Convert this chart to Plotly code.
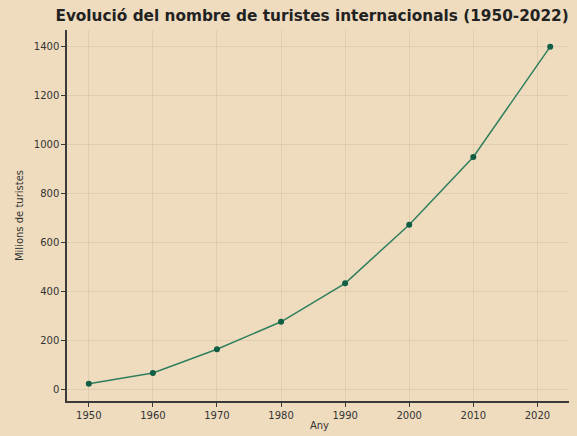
import plotly.graph_objects as go

anys = [1950, 1960, 1970, 1980, 1990, 2000, 2010, 2022]
turistes = [25, 69, 166, 278, 435, 674, 950, 1400]
x_ticks = [1950, 1960, 1970, 1980, 1990, 2000, 2010, 2020]
y_ticks = [0, 200, 400, 600, 800, 1000, 1200, 1400]

BG = "#efdcbf"
FONT = "DejaVu Sans"

fig = go.Figure(go.Scatter(
    x=anys, y=turistes, mode="lines+markers",
    line=dict(color="#2f7f5e", width=1.5),
    marker=dict(color="#0f5e45", size=6),
))

axis_common = dict(
    showline=True, linecolor="#3a3a3a", linewidth=1.5,
    ticks="outside", ticklen=4, tickcolor="#3a3a3a",
    showgrid=True, gridcolor="rgba(120,100,70,0.12)", gridwidth=1,
    zeroline=False, automargin=False,
    tickfont=dict(family=FONT, size=10, color="#333"),
)

# the page body adds an 8px offset, so margins are shifted to compensate
fig.update_layout(
    width=577, height=436,
    paper_bgcolor=BG, plot_bgcolor=BG,
    margin=dict(l=59, r=13, t=22, b=43),
    showlegend=False,
    title=dict(text="<b>Evolució del nombre de turistes internacionals (1950-2022)</b>",
               x=0.527, xref="container", xanchor="center", y=0.982, yanchor="middle",
               font=dict(family=FONT, size=15.3, color="#222")),
    xaxis=dict(range=[1946.6, 2025.4], tickvals=x_ticks,
               title=dict(text="Any", font=dict(family=FONT, size=10, color="#333"), standoff=2),
               **axis_common),
    yaxis=dict(range=[-45, 1468], tickvals=y_ticks,
               title=dict(text="Milions de turistes", font=dict(family=FONT, size=10, color="#333"), standoff=8),
               **axis_common),
)

fig.write_html("out.html", post_script=f"document.body.style.background='{BG}';")
